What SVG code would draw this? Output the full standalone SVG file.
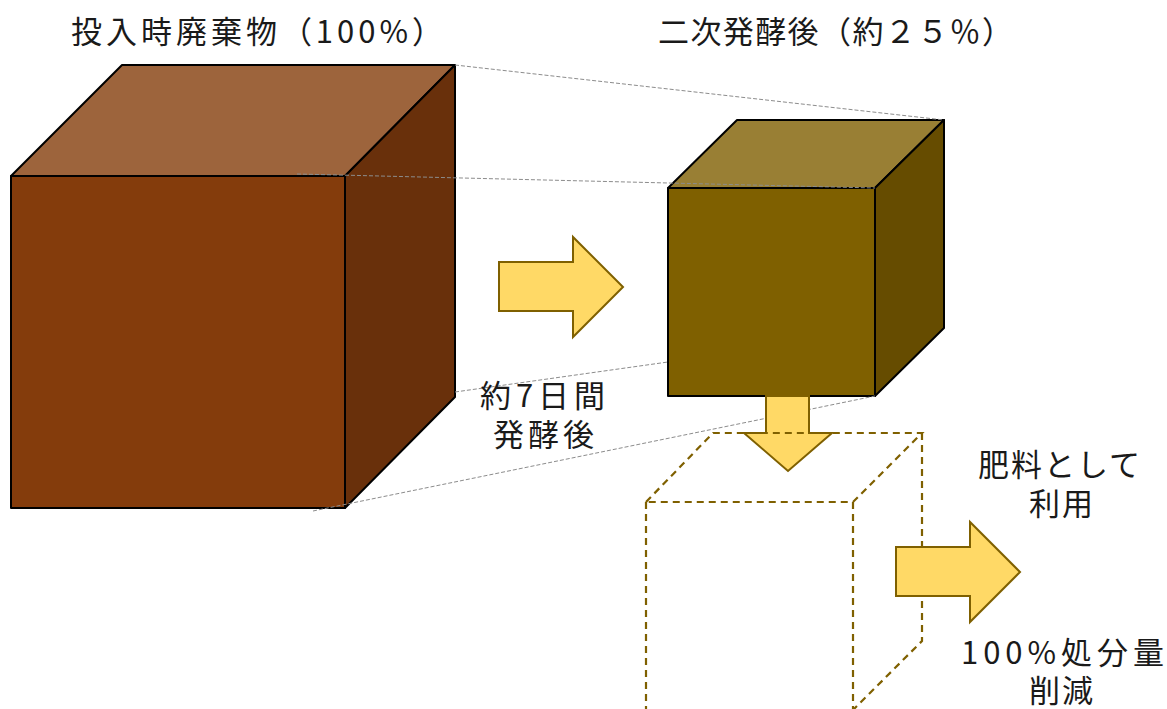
<svg xmlns="http://www.w3.org/2000/svg" width="1167" height="709" viewBox="0 0 1167 709">
  <style>
    .lbl { font-family: "Noto Sans CJK JP", "Noto Sans", sans-serif; font-size: 31px; fill: #1a1a1a; }
    .edge { stroke: #000; stroke-width: 2; stroke-linejoin: round; }
    .guide { fill: none; stroke: #8c8c8c; stroke-width: 1; stroke-dasharray: 4 2; }
    .ghost { fill: none; stroke: #7f6000; stroke-width: 2.2; stroke-dasharray: 7 5; }
    .arrow { fill: #ffd966; stroke: #7f6000; stroke-width: 2; stroke-linejoin: miter; }
  </style>

  <!-- waste input cube (100%) -->
  <g id="cube-input">
    <polygon class="edge" points="11,176 122,65 455,65 345,176" fill="#9d643c"/>
    <polygon class="edge" points="345,176 455,65 455,397 345,508" fill="#69300b"/>
    <rect class="edge" x="11" y="176" width="334" height="332" fill="#843c0c"/>
  </g>

  <!-- after secondary fermentation (about 25%) -->
  <g id="cube-fermented">
    <polygon class="edge" points="668,188 737,120 944,120 875,188" fill="#997f34"/>
    <polygon class="edge" points="875,188 944,120 944,328 875,396" fill="#664c00"/>
    <rect class="edge" x="668" y="188" width="207" height="208" fill="#7f6000"/>
  </g>

  <!-- perspective guide lines -->
  <g id="connectors">
    <line class="guide" x1="455" y1="65" x2="944" y2="120"/>
    <line class="guide" x1="297" y1="174" x2="875" y2="188"/>
    <line class="guide" x1="455" y1="392" x2="668" y2="362"/>
    <line class="guide" x1="313" y1="511" x2="875" y2="396"/>
  </g>

  <!-- arrow: input to fermented -->
  <g id="arrow-ferment">
    <polygon class="arrow" points="499,262 573,262 573,237 623,287 573,337 573,311 499,311"/>
  </g>

  <!-- arrow: down into the dashed volume -->
  <g id="arrow-down">
    <polygon class="arrow" points="766,396 809,396 809,433 832,433 788,471 744,433 766,433"/>
  </g>

  <!-- dashed outline of the eliminated volume -->
  <g id="cube-outline">
    <polyline class="ghost" points="646,502 713,433 922,433 853,502 646,502"/>
    <line class="ghost" x1="646" y1="502" x2="646" y2="712"/>
    <line class="ghost" x1="853" y1="502" x2="853" y2="712"/>
    <polyline class="ghost" points="922,433 922,641 853,710"/>
  </g>

  <!-- arrow: to fertilizer use -->
  <g id="arrow-use">
    <polygon class="arrow" points="896,547 970,547 970,522 1020,572 970,622 970,596 896,596"/>
  </g>

  <!-- labels -->
  <g id="label-input">
    <text class="lbl" x="71" y="43" font-size="32" textLength="372" lengthAdjust="spacing">投入時廃棄物（100%）</text>
  </g>
  <g id="label-fermented">
    <text class="lbl" x="658" y="43" font-size="32" textLength="355" lengthAdjust="spacing">二次発酵後（約２５％）</text>
  </g>
  <g id="label-days">
    <text class="lbl" x="480" y="407" textLength="125" lengthAdjust="spacing">約7日間</text>
    <text class="lbl" x="493" y="446" textLength="101" lengthAdjust="spacing">発酵後</text>
  </g>
  <g id="label-use">
    <text class="lbl" x="978" y="476" textLength="162" lengthAdjust="spacing">肥料として</text>
    <text class="lbl" x="1029" y="515" textLength="64" lengthAdjust="spacing">利用</text>
  </g>
  <g id="label-reduction">
    <text class="lbl" x="961" y="664" textLength="203" lengthAdjust="spacing">100%処分量</text>
    <text class="lbl" x="1029" y="702" textLength="64" lengthAdjust="spacing">削減</text>
  </g>
</svg>
